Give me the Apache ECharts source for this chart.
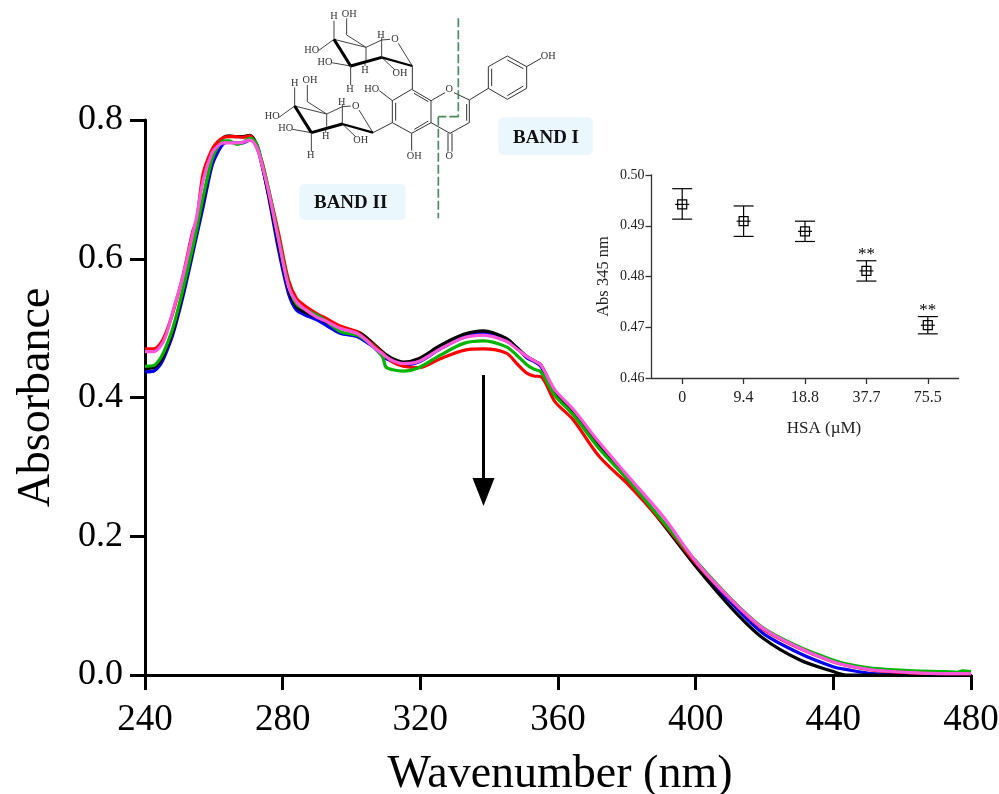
<!DOCTYPE html>
<html><head><meta charset="utf-8">
<style>html,body{margin:0;padding:0;background:#fff}#c{width:999px;height:794px}</style>
<script src="https://cdn.jsdelivr.net/npm/echarts@6/dist/echarts.min.js"></script>
</head><body><div id="c"></div>
<script>
const wavelengths=[240,242.5,244.4,246,248.2,251,253.9,255,256.9,259.4,261,262.8,264.5,266.6,268.5,270.5,272.4,274,275.9,278.8,281.7,284,286.5,289.9,293,296.7,301.5,304,306.3,309,310,312,315,319.5,325.8,332.6,338.4,345,348,351,353,355,359.1,364.4,372,380.9,390.6,400.3,410.9,419.6,430.3,439.9,443.7,451.5,463,472,476,477.5,480];
const absBlue =[.437,.438,.447,.463,.4925,.545,.608,.633,.675,.733,.752,.766,.768,.767,.767,.771,.765,.735,.690,.613,.550,.526,.519,.512,.503,.4925,.488,.481,.473,.460,.456,.452,.447,.451,.470,.487,.493,.483,.472,.457,.452,.445,.407,.378,.331,.279,.2195,.158,.101,.060,.031,.012,.008,.002,.001,.001,.001,.001,.001];
const absBlack=[.442,.443,.452,.468,.498,.552,.615,.640,.685,.742,.762,.775,.777,.776,.776,.778,.765,.735,.693,.622,.557,.531,.523,.516,.508,.4997,.495,.488,.478,.466,.462,.456,.451,.456,.475,.491,.496,.485,.472,.459,.453,.447,.409,.380,.332,.277,.217,.155,.094,.053,.0216,.005,0,0,0,0,0,0,0];
const absRed  =[.470,.470,.477,.492,.524,.575,.640,.655,.723,.757,.768,.775,.776,.776,.775,.777,.761,.740,.700,.637,.569,.543,.532,.521,.513,.503,.495,.485,.476,.464,.459,.451,.445,.443,.456,.468,.470,.464,.449,.435,.431,.430,.394,.368,.315,.272,.2185,.160,.105,.066,.038,.019,.014,.007,.003,.002,.002,.002,.002];
const absGreen=[.445,.446,.456,.472,.502,.555,.617,.642,.689,.742,.760,.770,.770,.765,.768,.774,.766,.738,.700,.630,.562,.535,.527,.519,.509,.495,.490,.483,.474,.459,.444,.440,.438,.443,.461,.478,.4815,.473,.461,.447,.441,.437,.403,.375,.326,.278,.2207,.163,.1065,.068,.040,.0216,.016,.0096,.006,.005,.004,.006,.005];
const absPink =[.466,.466,.473,.488,.526,.574,.637,.660,.713,.752,.762,.767,.767,.767,.768,.771,.761,.735,.697,.627,.560,.538,.527,.516,.509,.4997,.4925,.484,.473,.463,.459,.453,.449,.452,.470,.486,.490,.481,.470,.459,.453,.447,.411,.383,.335,.2835,.228,.162,.1057,.067,.0385,.019,.014,.0072,.0035,.002,.002,.002,.002];
const hsaLabels=['0','9.4','18.8','37.7','75.5'];
const hsaMean=[.4942,.4909,.4889,.4811,.4704];
const hsaHigh=[.4973,.4939,.4909,.4831,.4721];
const hsaLow =[.4913,.4879,.4869,.4791,.4687];
const hsaStars=['','','','**','**'];

const serif='"Liberation Serif","Times New Roman",serif';
const pairs=a=>wavelengths.map((w,i)=>[w,a[i]]);
const curve=(d,c,w)=>({type:'line',xAxisIndex:0,yAxisIndex:0,data:pairs(d),showSymbol:false,smooth:0.3,
  lineStyle:{color:c,width:w,join:'round'},silent:true,animation:false,clip:false});

/* chemical structure artwork (decoration, in a 3x sketch space) */
const sugar=[[282,62,282,118],[235,152,282,118],[320,55,320,105],[320,105,378,142],[282,118,378,142],[378,142,425,120],[425,112,425,172],[425,120,450,118],[475,130,517,198],[378,142,378,180],[375,182,375,198],[275,188,332,198],[332,198,332,255],[425,172,465,210]];
const sugarBold=[[282,118,332,198,9],[332,198,425,172,9],[425,172,517,198,7]];
const sugarText=[['H',282,50],['HO',215,150],['OH',328,42],['H',423,107],['O',465,118],['HO',255,186],['H',375,210],['H',330,267],['OH',480,220]];
const rings=[[515,268,573,302],[573,302,573,368],[573,368,515,400],[515,400,457,368],[457,368,457,302],[457,302,515,268],[522,280,565,305],[523,388,565,363],[467,308,467,362],[573,302,615,278],[642,278,688,300],[688,300,688,368],[680,312,680,362],[688,368,630,400],[630,400,573,368],[624,400,624,455],[636,400,636,455],[418,272,457,302],[515,400,515,452],[517,198,517,268],[399,398,457,368],[688,300,745,265],[745,265,745,200],[745,200,802,168],[802,168,860,200],[860,200,860,265],[860,265,802,298],[802,298,745,265],[755,258,755,206],[802,180,850,206],[850,258,802,287],[860,200,903,175]];
const ringText=[['O',628,267],['HO',395,267],['OH',523,468],['O',628,468],['OH',925,168]];
const els=[];
const seg=(s,w,c)=>els.push({type:'line',shape:{x1:s[0],y1:s[1],x2:s[2],y2:s[3]},style:{stroke:c||'#333',lineWidth:w}});
const lab=(t,dx,dy)=>els.push({type:'text',x:t[1]+dx,y:t[2]+dy,style:{text:t[0],font:'31px '+serif,fill:'#333',align:'center',verticalAlign:'middle'}});
[[0,0],[-118,200]].forEach(([dx,dy])=>{
  sugar.forEach(s=>seg([s[0]+dx,s[1]+dy,s[2]+dx,s[3]+dy],3,'#444'));
  sugarBold.forEach(s=>seg([s[0]+dx,s[1]+dy,s[2]+dx,s[3]+dy],s[4],'#000'));
  sugarText.forEach(t=>lab(t,dx,dy));
});
rings.forEach(s=>seg(s,3,'#333'));
ringText.forEach(t=>lab(t,0,0));
[[655,55,655,350],[655,350,595,350],[595,350,595,655]].forEach(s=>els.push({type:'line',shape:{x1:s[0],y1:s[1],x2:s[2],y2:s[3]},style:{stroke:'#4c8a5c',lineWidth:5,lineDash:[27,9]}}));
[[775,352,283,113,'BAND I',918,412],[178,552,319,108,'BAND II',332,607]].forEach(b=>{
  els.push({type:'rect',shape:{x:b[0],y:b[1],width:b[2],height:b[3],r:15},style:{fill:'#eaf7fc'}});
  els.push({type:'text',x:b[5],y:b[6]+3,style:{text:b[4],font:'bold 57px '+serif,fill:'#111',align:'center',verticalAlign:'middle'}});
});

const inset=(p,api)=>{
  const i=api.value(0),m=api.coord([i,api.value(1)]),h=api.coord([i,api.value(2)]),l=api.coord([i,api.value(3)]);
  const s={stroke:'#000',lineWidth:1.2,fill:null},x=m[0];
  const ln=(a,b,c,d)=>({type:'line',shape:{x1:a,y1:b,x2:c,y2:d},style:s});
  const kids=[ln(x,h[1],x,l[1]),ln(x-10,h[1],x+10,h[1]),ln(x-10,l[1],x+10,l[1]),ln(x-7,m[1],x+7,m[1]),
    {type:'rect',shape:{x:x-4.5,y:m[1]-4.5,width:9,height:9},style:{stroke:'#000',lineWidth:1.2,fill:'none'}}];
  const star=hsaStars[i];
  if(star)kids.push({type:'text',x:x,y:h[1]+2,style:{text:star,font:'17px '+serif,fill:'#000',align:'center',verticalAlign:'bottom'}});
  return {type:'group',children:kids};
};

const chart=echarts.init(document.getElementById('c'),null,{renderer:'canvas'});
chart.setOption({
  animation:false,backgroundColor:'#fff',
  grid:[{left:145,top:120,width:826,height:555,outerBoundsMode:'none',containLabel:false},
        {left:651.5,top:175,width:307,height:203,outerBoundsMode:'none',containLabel:false}],
  xAxis:[
    {type:'value',gridIndex:0,min:240,max:480,interval:40,
     axisLine:{show:true,lineStyle:{color:'#000',width:3}},axisTick:{show:true,length:15,lineStyle:{color:'#000',width:3}},
     splitLine:{show:false},
     axisLabel:{fontFamily:serif,fontSize:37,color:'#000',margin:27,formatter:v=>String(v)},
     name:'Wavenumber (nm)',nameLocation:'middle',nameGap:77,nameTextStyle:{fontFamily:serif,fontSize:46,color:'#000',padding:[0,0,0,4]}},
    {type:'category',gridIndex:1,data:hsaLabels,boundaryGap:true,
     axisLine:{show:true,lineStyle:{color:'#333',width:1.3}},axisTick:{show:true,alignWithLabel:true,length:6,lineStyle:{color:'#333',width:1.3}},
     axisLabel:{fontFamily:serif,fontSize:16,color:'#222',margin:12,interval:0},
     name:'HSA (µM)',nameLocation:'middle',nameGap:42,nameTextStyle:{fontFamily:serif,fontSize:17,color:'#222',padding:[0,0,0,38]}}
  ],
  yAxis:[
    {type:'value',gridIndex:0,min:0,max:.8,interval:.2,
     axisLine:{show:true,lineStyle:{color:'#000',width:3}},axisTick:{show:true,length:15,lineStyle:{color:'#000',width:3}},
     splitLine:{show:false},
     axisLabel:{fontFamily:serif,fontSize:36,color:'#000',margin:22,formatter:v=>v.toFixed(1)},
     name:'Absorbance',nameLocation:'middle',nameGap:85,nameTextStyle:{fontFamily:serif,fontSize:46,color:'#000'}},
    {type:'value',gridIndex:1,min:.46,max:.5,interval:.01,
     axisLine:{show:true,lineStyle:{color:'#333',width:1.3}},axisTick:{show:true,length:6,lineStyle:{color:'#333',width:1.3}},
     splitLine:{show:false},
     axisLabel:{fontFamily:serif,fontSize:14,color:'#222',margin:7,formatter:v=>v.toFixed(2)},
     name:'Abs 345 nm',nameLocation:'middle',nameGap:39,nameTextStyle:{fontFamily:serif,fontSize:16.5,color:'#222'}}
  ],
  series:[
    curve(absBlue,'#0000ee',3.2),
    curve(absBlack,'#000000',3.2),
    curve(absRed,'#ff0000',3.2),
    curve(absGreen,'#00b400',3.2),
    curve(absPink,'#ff55dd',3.2),
    {type:'custom',xAxisIndex:1,yAxisIndex:1,silent:true,renderItem:inset,
     encode:{x:0,y:1},data:hsaLabels.map((_,i)=>[i,hsaMean[i],hsaHigh[i],hsaLow[i]])}
  ],
  graphic:[
    {type:'group',x:240,y:0,scaleX:1/3,scaleY:1/3,silent:true,children:els},
    {type:'line',silent:true,shape:{x1:483.5,y1:375,x2:483.5,y2:480},style:{stroke:'#000',lineWidth:3}},
    {type:'polygon',silent:true,shape:{points:[[472.5,478],[494.5,478],[483.5,506]]},style:{fill:'#000'}}
  ]
});
</script></body></html>
